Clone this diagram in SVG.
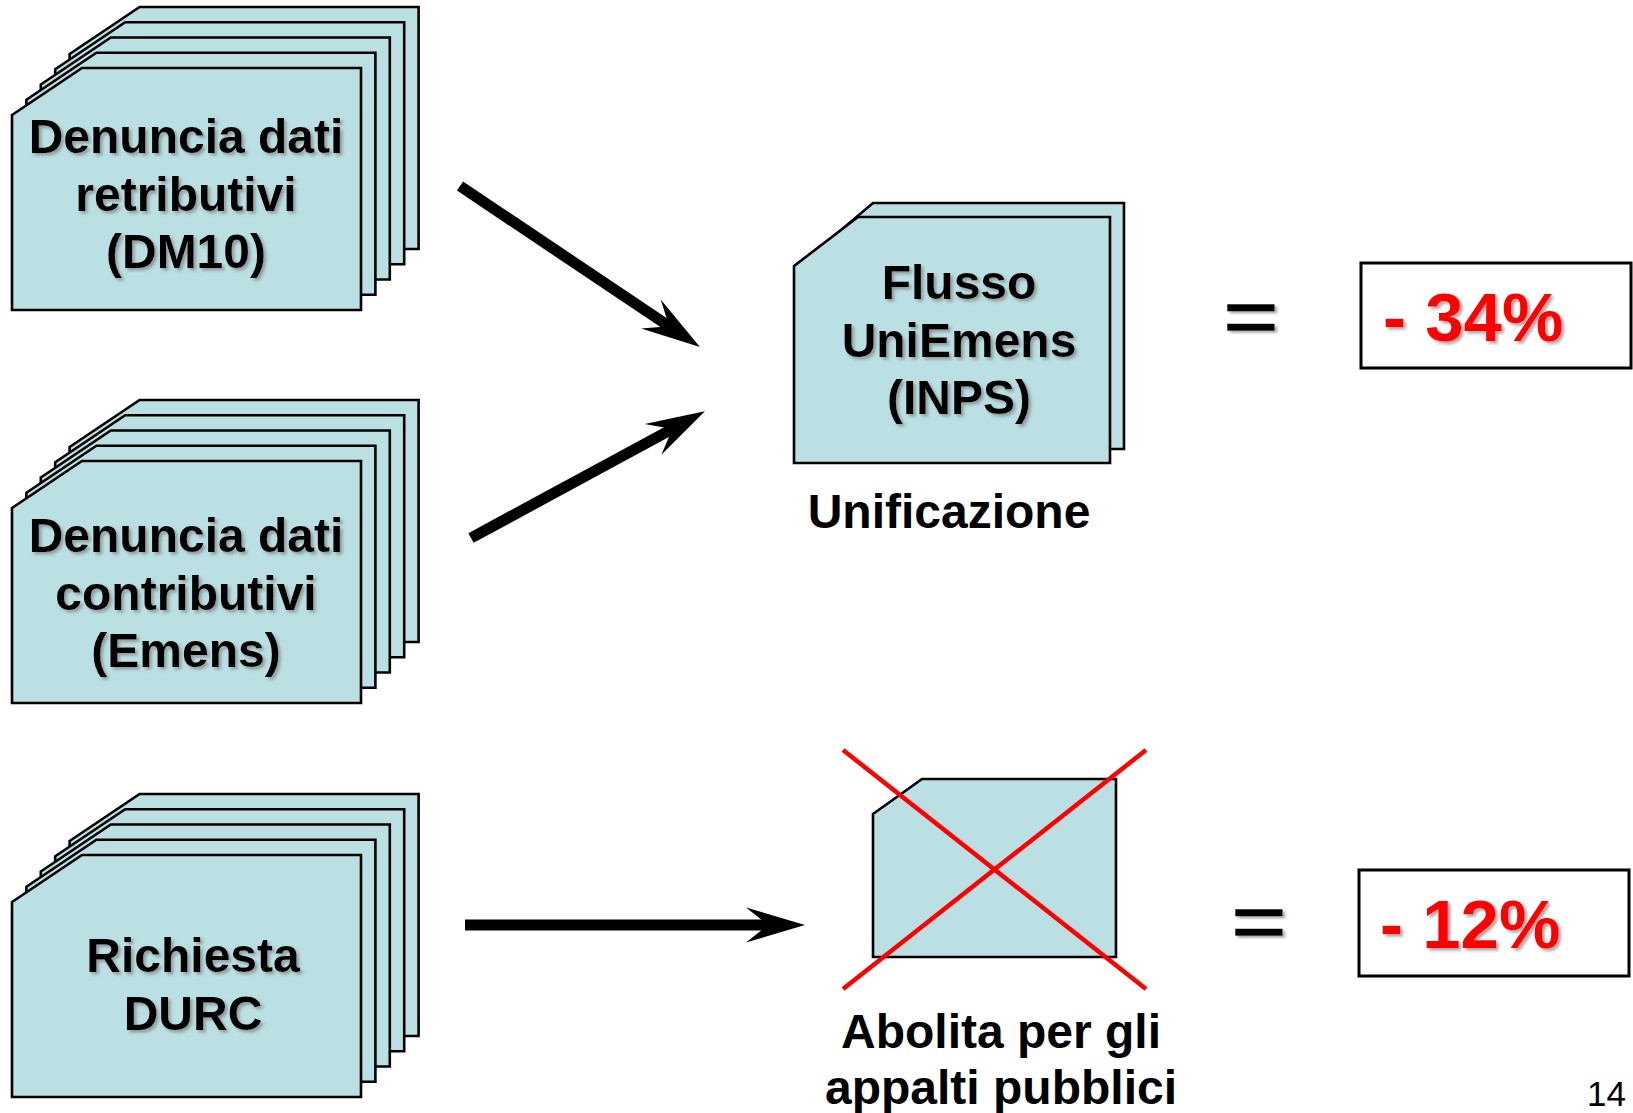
<svg xmlns="http://www.w3.org/2000/svg" width="1633" height="1113" viewBox="0 0 1633 1113">
<style>
.card{fill:#BAE0E3;stroke:#000;stroke-width:2.6;stroke-linejoin:miter}
.lbl{font-family:"Liberation Sans",Arial,sans-serif;font-weight:bold;font-size:48px;fill:#000;text-anchor:middle}
.sh{filter:url(#ts)}
.pct{font-family:"Liberation Sans",Arial,sans-serif;font-weight:bold;font-size:69px;fill:#FF0000}
.eq{font-family:"Liberation Sans",Arial,sans-serif;font-weight:normal;font-size:94px;fill:#000;text-anchor:middle;stroke:#000;stroke-width:1.6}
.box{fill:#fff;stroke:#000;stroke-width:3}
.arr{stroke:#000;stroke-width:11;fill:none}
.x{stroke:#FF0000;stroke-width:4.5}
</style>
<defs>
<filter id="ts" x="-10%" y="-20%" width="130%" height="150%">
<feDropShadow dx="2.5" dy="2.5" stdDeviation="1.4" flood-color="#7f7f7f" flood-opacity="0.7"/>
</filter>
<path id="stk" d="M12,115 L82,68 L361,68 L361,310 L12,310 Z"/>
<marker id="ah" markerUnits="userSpaceOnUse" markerWidth="80" markerHeight="40" refX="0" refY="0" orient="auto" overflow="visible">
<path d="M34,0 L-25,-17.5 L-3,0 L-25,17.5 Z" fill="#000"/>
</marker>
</defs>
<rect width="1633" height="1113" fill="#fff"/>

<g id="stack-dm10">
<use href="#stk" class="card" transform="translate(57.6,-61)"/>
<use href="#stk" class="card" transform="translate(43.2,-45.75)"/>
<use href="#stk" class="card" transform="translate(28.8,-30.5)"/>
<use href="#stk" class="card" transform="translate(14.4,-15.25)"/>
<use href="#stk" class="card"/>
<g class="sh">
<text class="lbl" x="186" y="153">Denuncia dati</text>
<text class="lbl" x="186" y="210.6">retributivi</text>
<text class="lbl" x="186" y="268.2">(DM10)</text>
</g>
</g>

<g id="stack-emens" transform="translate(0,393)">
<use href="#stk" class="card" transform="translate(57.6,-61)"/>
<use href="#stk" class="card" transform="translate(43.2,-45.75)"/>
<use href="#stk" class="card" transform="translate(28.8,-30.5)"/>
<use href="#stk" class="card" transform="translate(14.4,-15.25)"/>
<use href="#stk" class="card"/>
<g class="sh">
<text class="lbl" x="186" y="159">Denuncia dati</text>
<text class="lbl" x="186" y="216.6">contributivi</text>
<text class="lbl" x="186" y="274.2">(Emens)</text>
</g>
</g>

<g id="stack-durc" transform="translate(0,787)">
<use href="#stk" class="card" transform="translate(57.6,-61)"/>
<use href="#stk" class="card" transform="translate(43.2,-45.75)"/>
<use href="#stk" class="card" transform="translate(28.8,-30.5)"/>
<use href="#stk" class="card" transform="translate(14.4,-15.25)"/>
<use href="#stk" class="card"/>
<g class="sh">
<text class="lbl" x="193" y="185">Richiesta</text>
<text class="lbl" x="193" y="242.6">DURC</text>
</g>
</g>

<g id="uniemens">
<path class="card" d="M808,258 L873,203 L1124,203 L1124,449 L808,449 Z"/>
<path class="card" d="M794,266 L858,217 L1110,217 L1110,463 L794,463 Z"/>
<g class="sh">
<text class="lbl" x="959" y="299">Flusso</text>
<text class="lbl" x="959" y="356.6">UniEmens</text>
<text class="lbl" x="959" y="414.2">(INPS)</text>
</g>
<text class="lbl" x="949" y="528">Unificazione</text>
</g>

<g id="durc-abolita">
<path class="card" d="M873,814 L922,779 L1116,779 L1116,957 L873,957 Z"/>
<line class="x" x1="843" y1="750" x2="1146" y2="989"/>
<line class="x" x1="1146" y1="750" x2="843" y2="989"/>
<text class="lbl" x="1001" y="1048">Abolita per gli</text>
<text class="lbl" x="1001" y="1104">appalti pubblici</text>
</g>

<g id="result-34">
<g transform="translate(1251,317) scale(1,0.82)"><text class="eq sh" x="0" y="31.8">=</text></g>
<rect class="box" x="1361" y="263" width="270" height="105"/>
<text class="pct sh" x="1383" y="341">- 34%</text>
</g>

<g id="result-12">
<g transform="translate(1259,921.5) scale(1,0.82)"><text class="eq sh" x="0" y="31.8">=</text></g>
<rect class="box" x="1359" y="870" width="270" height="106"/>
<text class="pct sh" x="1380" y="948">- 12%</text>
</g>

<g id="connectors">
<line class="arr" x1="460" y1="186" x2="671.7" y2="328" marker-end="url(#ah)"/>
<line class="arr" x1="471" y1="538" x2="675" y2="427.5" marker-end="url(#ah)"/>
<line class="arr" x1="465" y1="925" x2="771" y2="925" marker-end="url(#ah)"/>
</g>

<text x="1587" y="1106" style="font-family:'Liberation Sans',Arial,sans-serif;font-size:35px;fill:#000">14</text>
</svg>
